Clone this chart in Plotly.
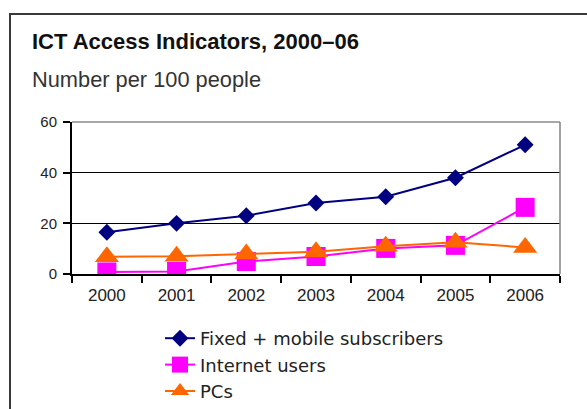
import plotly.graph_objects as go

years = ["2000", "2001", "2002", "2003", "2004", "2005", "2006"]
fixed_mobile = [16.5, 20.0, 23.0, 28.0, 30.5, 38.0, 51.0]
internet_users = [0.8, 1.0, 4.9, 6.9, 10.1, 11.3, 26.3]
pcs = [6.8, 7.0, 7.9, 8.8, 11.0, 12.5, 10.5]
y_ticks = [0, 20, 40, 60]

FONT = "Liberation Sans, Arial, sans-serif"

# plot area in pixels: x 72..560, y 122..274
L, R, T, B = 72, 560, 122, 274
W, H = 587, 409
def px(x):
    return (x - L) / (R - L)
def py(y):
    return (B - y) / (B - T)

fig = go.Figure()
fig.add_trace(go.Scatter(x=years, y=fixed_mobile, name="Fixed + mobile subscribers",
                         mode="lines+markers",
                         line=dict(color="#000080", width=2),
                         marker=dict(symbol="diamond", size=13, color="#000080")))
fig.add_trace(go.Scatter(x=years, y=internet_users, name="Internet users",
                         mode="lines+markers",
                         line=dict(color="#FF00FF", width=2),
                         marker=dict(symbol="square", size=19, color="#FF00FF")))
fig.add_trace(go.Scatter(x=years, y=pcs, name="PCs",
                         mode="lines+markers",
                         line=dict(color="#FF6600", width=2),
                         marker=dict(symbol="triangle-up", size=21, color="#FF6600")))

fig.update_layout(
    width=W, height=H,
    margin=dict(l=L, r=W - R, t=T, b=H - B, pad=0, autoexpand=False),
    paper_bgcolor="white", plot_bgcolor="white",
    font=dict(family=FONT, color="#222222"),
    showlegend=True,
    legend=dict(x=px(160), y=py(320), xanchor="left", yanchor="top",
                font=dict(size=18, color="#222222", family="DejaVu Sans, sans-serif"),
                bgcolor="rgba(0,0,0,0)",
                itemwidth=30, tracegroupgap=0),
    xaxis=dict(type="category", range=[-0.5, 6.5], showgrid=False,
               showline=True, linecolor="#000000", linewidth=2,
               ticks="outside", tickson="boundaries", ticklen=7, tickwidth=1.5,
               tickcolor="#000000", tickfont=dict(size=17, color="#222222"),
               ticklabelstandoff=5,
               zeroline=False, fixedrange=True),
    yaxis=dict(range=[0, 60], tickvals=y_ticks, showgrid=True,
               gridcolor="#000000", gridwidth=1.2,
               showline=True, linecolor="#000000", linewidth=2,
               ticks="outside", ticklen=7, tickwidth=1.5, tickcolor="#000000",
               tickfont=dict(size=15, color="#222222"), zeroline=False,
               ticklabelstandoff=3,
               fixedrange=True),
)

shapes = [
    # gray plot-area border (top and right)
    dict(type="line", xref="paper", yref="paper", x0=0, x1=1, y0=1, y1=1,
         line=dict(color="#8a8a8a", width=1.6), layer="above"),
    dict(type="line", xref="paper", yref="paper", x0=1, x1=1, y0=0, y1=1,
         line=dict(color="#8a8a8a", width=1.6), layer="above"),
    # outer frame (top and left)
    dict(type="line", xref="paper", yref="paper", x0=px(9), x1=px(600), y0=py(14), y1=py(14),
         line=dict(color="#3a3a3a", width=2)),
    dict(type="line", xref="paper", yref="paper", x0=px(10), x1=px(10), y0=py(13), y1=py(420),
         line=dict(color="#3a3a3a", width=2)),
]
fig.update_layout(shapes=shapes)

fig.add_annotation(text="<b>ICT Access Indicators, 2000–06</b>", xref="paper", yref="paper",
                   x=px(30), y=py(42), xanchor="left", yanchor="middle", showarrow=False,
                   font=dict(size=22, color="#111111", family=FONT))
fig.add_annotation(text="Number per 100 people", xref="paper", yref="paper",
                   x=px(30), y=py(79), xanchor="left", yanchor="middle", showarrow=False,
                   font=dict(size=21.8, color="#333333", family=FONT))

fig.write_html("out.html", config=dict(displayModeBar=False))
